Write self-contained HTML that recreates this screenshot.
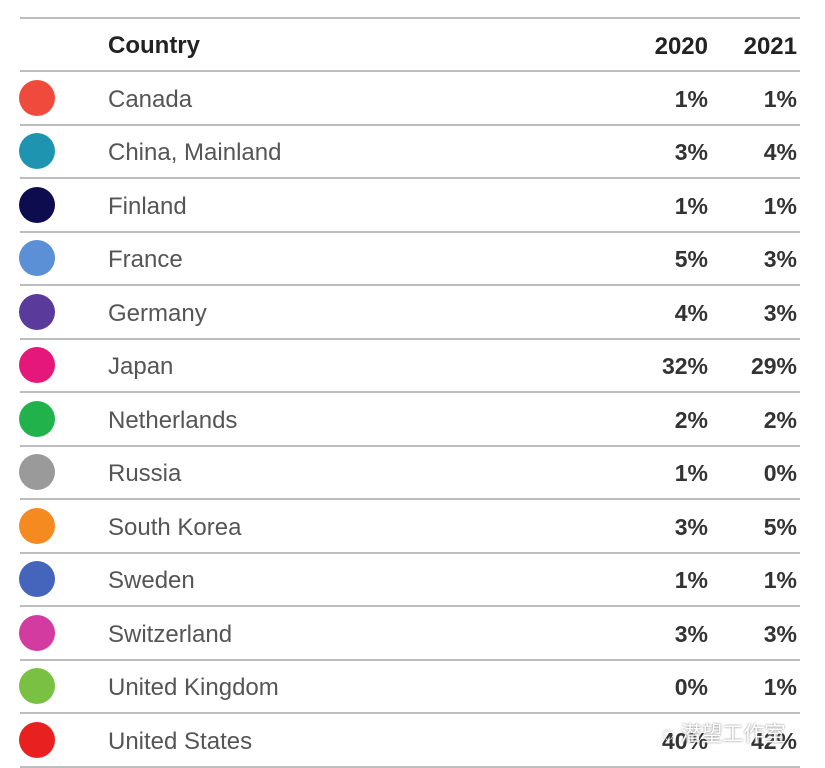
<!DOCTYPE html>
<html><head><meta charset="utf-8"><style>
body{margin:0;width:825px;height:766px;background:#fff;overflow:hidden;font-family:"Liberation Sans","Noto Sans CJK SC",sans-serif;position:relative}
.l{position:absolute;left:20px;width:780px;height:2px;background:#bdbdbd}
.t{position:absolute;font-size:24px;color:#555;left:108px}
.n{position:absolute;font-size:23px;font-weight:bold;color:#333;text-align:right;width:80px}
.c{position:absolute;left:19px;width:36px;height:36px;border-radius:50%}
</style></head><body>
<div id="tbl"></div>
<script>
const countries=["Canada","China, Mainland","Finland","France","Germany","Japan","Netherlands","Russia","South Korea","Sweden","Switzerland","United Kingdom","United States"];
const v2020=[1,3,1,5,4,32,2,1,3,1,3,0,40];
const v2021=[1,4,1,3,3,29,2,0,5,1,3,1,42];
const colors=["#f04a3c","#1f94b0","#0c0c4e","#5b8fd6","#5a3a9a","#e5177a","#22b24c","#9a9a9a","#f58a20","#4565bd","#d43ba0","#7ac143","#e8201f"];
const T=document.getElementById('tbl');
function add(cls,style,text,name){const e=document.createElement('div');e.className=cls;e.style.cssText=style;if(text!=null)e.textContent=text;


T.appendChild(e);return e;}
add('l','top:17px',null,'top-rule');
add('t','top:32px;font-weight:bold;color:#222;font-size:24px','Country','header-country');
add('n','top:33px;left:628px;color:#222;font-size:24px','2020','header-2020');
add('n','top:33px;left:717px;color:#222;font-size:24px','2021','header-2021');
add('l','top:70px',null,'header-rule');
const y0=71,h=53.5;
countries.forEach((c,i)=>{const cy=y0+h*i+h/2;
add('c','top:'+(cy-18)+'px;background:'+colors[i],null,'legend-dot-'+i);
add('t','top:'+(cy-12)+'px',c,'country-name');
add('n','top:'+(cy-12)+'px;left:628px',v2020[i]+'%','value-2020');
add('n','top:'+(cy-12)+'px;left:717px',v2021[i]+'%','value-2021');
add('l','top:'+(y0+h*(i+1)-1)+'px',null,'row-rule');});
</script>
<div style="position:absolute;left:662px;top:718px;font-size:21px;color:#fff;text-shadow:0 0 2px #777">◌ 潜望工作室</div>
</body></html>
